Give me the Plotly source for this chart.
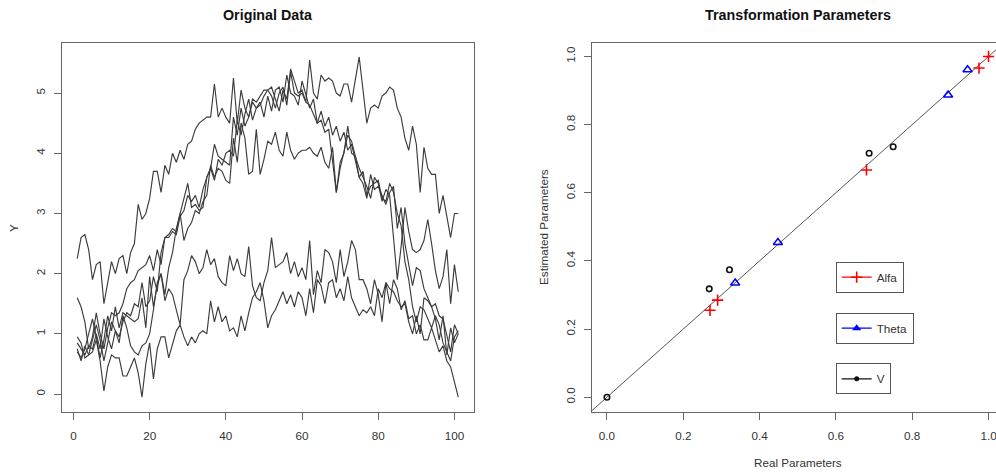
import plotly.graph_objects as go

# ---------------- data ----------------
t = list(range(1, 102))

series_a = [2.25, 2.6, 2.65, 2.4, 1.9, 2.15, 2.2, 1.5, 1.85, 2.2,
            2.0, 2.25, 2.3, 2.0, 2.35, 2.5, 3.15, 2.9, 3.0, 3.25,
            3.7, 3.7, 3.35, 3.8, 3.65, 4.0, 3.85, 4.05, 3.9, 4.15,
            4.2, 4.4, 4.5, 4.55, 4.6, 4.6, 5.15, 4.6, 4.75, 4.6,
            4.5, 5.25, 4.5, 5.05, 4.75, 4.6, 4.9, 4.85, 4.95, 5.05,
            5.05, 4.95, 4.75, 5.0, 5.1, 4.8, 5.35, 5.0, 4.95, 5.0,
            4.85, 5.55, 5.0, 4.9, 5.3, 5.2, 5.25, 5.2, 5.0, 4.95,
            5.15, 5.15, 4.85, 5.2, 5.6, 5.05, 4.5, 4.75, 4.8, 4.75,
            4.95, 5.0, 5.1, 5.05, 4.75, 4.6, 4.25, 4.05, 4.45, 4.15,
            3.35, 4.1, 3.75, 3.65, 3.65, 3.0, 3.3, 2.95, 2.6, 3.0, 3.0]

series_b = [0.95, 0.85, 0.6, 0.65, 0.9, 1.15, 0.9, 0.55, 0.85, 1.2,
            1.05, 0.85, 1.3, 1.1, 0.8, 0.7, 0.65, 0.8, 0.85, 1.0,
            1.4, 1.85, 2.0, 1.65, 2.1, 2.35, 2.75, 3.0, 3.3, 3.5,
            3.1, 3.15, 3.05, 3.1, 3.6, 3.75, 4.15, 3.95, 3.9, 3.85,
            3.8, 4.6, 4.3, 4.75, 4.45, 4.6, 4.85, 4.75, 4.8, 4.95,
            5.05, 5.1, 4.9, 4.7, 5.05, 4.9, 5.4, 5.2, 5.0, 5.05,
            4.85, 4.8, 4.65, 4.5, 4.7, 4.45, 4.6, 4.3, 4.45, 4.2,
            4.35, 4.05, 4.15, 3.85, 3.6, 3.7, 3.3, 3.45, 3.5, 3.55,
            3.25, 3.2, 3.5, 3.35, 3.0, 2.8, 2.2, 1.9, 1.45, 1.2,
            1.45, 1.4, 1.25, 1.1, 1.3, 1.15, 0.85, 0.7, 0.55, 0.95, 1.05]

series_c = [0.85, 0.75, 0.65, 0.8, 0.75, 1.0, 0.75, 1.25, 0.95, 0.75,
            1.05, 0.95, 1.2, 1.35, 1.3, 1.5, 1.45, 1.85, 1.45, 1.55,
            1.95, 1.7, 2.35, 2.6, 2.6, 2.7, 2.65, 2.95, 3.05, 3.3,
            3.2, 3.3, 3.1, 3.4, 3.6, 3.75, 3.55, 3.9, 3.8, 4.0,
            4.05, 3.95, 4.55, 4.3, 4.65, 4.9, 4.55, 4.75, 4.85, 4.6,
            4.95, 4.7, 5.05, 5.1, 4.85, 5.3, 5.0, 4.95, 4.8, 5.2,
            4.95, 4.75, 4.9, 4.5, 4.55, 4.35, 4.4, 3.9, 3.35, 3.75,
            4.05, 4.3, 4.2, 3.95, 3.6, 3.5, 3.25, 3.65, 3.4, 3.45,
            3.3, 3.15, 3.35, 3.45, 2.75, 3.1, 2.5, 2.15, 1.8, 2.1,
            2.05, 1.75, 1.6, 1.45, 1.5, 1.3, 1.25, 0.95, 0.7, 1.15, 1.0]

series_d = [1.6, 1.45, 1.2, 0.75, 0.95, 1.35, 1.0, 0.75, 1.1, 1.35,
            1.3, 1.35, 1.5, 1.75, 1.85, 1.9, 2.05, 2.1, 2.15, 2.3,
            2.05, 2.4, 2.15, 2.6, 2.65, 2.75, 2.7, 3.0, 2.55, 2.75,
            2.85, 3.05, 3.0, 3.2, 3.3, 3.8, 3.6, 3.75, 3.7, 3.55,
            3.5, 4.25, 3.85, 4.5, 4.25, 3.65, 3.7, 4.4, 3.65, 3.9,
            4.2, 4.15, 4.35, 4.05, 3.95, 4.35, 4.05, 3.9, 4.0, 4.05,
            4.05, 4.1, 4.0, 3.95, 4.1, 3.85, 3.75, 4.1, 3.35, 3.85,
            4.0, 4.45, 4.0, 3.95, 3.75, 3.6, 3.45, 3.25, 3.6, 3.5,
            3.2, 3.4, 3.3, 2.6, 1.9, 2.45, 3.1, 2.7, 2.4, 2.35,
            2.4, 2.55, 2.9, 2.5, 2.05, 1.75, 1.95, 2.4, 1.5, 2.15, 1.7]

series_e = [0.7, 0.6, 0.75, 1.0, 1.25, 0.95, 0.6, 0.9, 1.3, 1.05,
            1.45, 1.1, 1.35, 1.3, 1.25, 1.2, 1.25, 1.6, 1.1, 1.95,
            1.45, 1.8, 2.0, 1.55, 1.75, 1.65, 1.4, 1.15, 1.9, 2.05,
            2.3, 2.2, 2.0, 2.1, 2.4, 2.15, 2.25, 1.95, 1.85, 1.8,
            2.3, 2.05, 2.25, 2.0, 1.95, 2.45, 1.8, 1.6, 1.55, 1.85,
            2.05, 2.6, 2.1, 2.15, 2.2, 2.35, 2.0, 2.2, 1.95, 2.1,
            1.9, 2.55, 1.65, 2.05, 1.85, 2.4, 2.35, 2.2, 1.85, 2.4,
            1.95, 2.2, 2.55, 2.4, 1.9, 1.9, 1.75, 1.5, 1.9, 1.65,
            1.2, 1.85, 1.75, 1.7, 1.55, 1.45, 1.5, 1.2, 1.0, 1.3,
            1.0, 1.6, 1.55, 1.45, 1.25, 0.9, 1.3, 0.65, 1.1, 0.85, 1.0]

series_f = [0.75, 0.55, 0.8, 0.65, 0.7, 0.9, 0.55, 0.05, 0.45, 0.65,
            0.6, 0.6, 0.3, 0.3, 0.45, 0.6, 0.35, -0.05, 0.5, 0.85,
            0.25, 0.75, 0.95, 0.95, 0.6, 0.85, 1.05, 1.15, 0.95, 0.8,
            0.95, 0.85, 1.0, 1.05, 1.0, 1.55, 1.2, 1.45, 1.2, 1.3,
            1.05, 1.1, 0.95, 1.3, 1.05, 1.35, 1.6, 1.7, 1.85, 1.55,
            1.1, 1.3, 1.4, 1.55, 1.7, 1.5, 1.65, 1.45, 1.7, 1.6,
            1.3, 1.75, 1.35, 1.9, 1.8, 1.5, 1.85, 1.9, 1.6, 1.75,
            1.55, 1.95, 1.6, 1.45, 1.3, 1.4, 1.35, 1.45, 1.3, 1.75,
            1.6, 1.85, 1.5, 1.9, 1.75, 1.4, 1.55, 1.25, 1.3, 1.0,
            1.15, 0.9, 0.9, 1.1, 0.9, 0.7, 0.8, 0.55, 0.45, 0.2, -0.05]

all_series = [series_a, series_b, series_c, series_d, series_e, series_f]

alfa_real = [0.27, 0.29, 0.68, 0.975, 1.0]
alfa_est = [0.255, 0.285, 0.667, 0.966, 1.0]
theta_real = [0.336, 0.448, 0.894, 0.945]
theta_est = [0.335, 0.454, 0.887, 0.961]
v_real = [0.0, 0.268, 0.321, 0.687, 0.75]
v_est = [0.0, 0.318, 0.374, 0.716, 0.735]
diag_x = [-0.1, 1.1]

left_xticks = [0, 20, 40, 60, 80, 100]
left_yticks = [0, 1, 2, 3, 4, 5]
right_ticks = [0.0, 0.2, 0.4, 0.6, 0.8, 1.0]
right_ticklabels = ["0.0", "0.2", "0.4", "0.6", "0.8", "1.0"]

# ---------------- figure ----------------
W, H = 996, 473
FONT = "Liberation Sans, Arial, sans-serif"
TXT = "#333333"
AX = "#666666"
fs = 11.7

fig = go.Figure()

for s in all_series:
    fig.add_trace(go.Scatter(x=t, y=s, mode="lines", xaxis="x", yaxis="y",
                             line=dict(color="#3c3c3c", width=1.15),
                             showlegend=False, hoverinfo="skip"))

fig.add_trace(go.Scatter(x=diag_x, y=diag_x, mode="lines", xaxis="x2", yaxis="y2",
                         line=dict(color="#555555", width=1), showlegend=False))

fig.add_trace(go.Scatter(x=alfa_real, y=alfa_est, mode="markers", xaxis="x2", yaxis="y2",
                         marker=dict(symbol="cross-thin-open", size=8, color="#ff0000",
                                     line=dict(color="#ff0000", width=1.6)),
                         showlegend=False))
fig.add_trace(go.Scatter(x=theta_real, y=theta_est, mode="markers", xaxis="x2", yaxis="y2",
                         marker=dict(symbol="triangle-up-open", size=8, color="#0000ff",
                                     line=dict(color="#0000ff", width=1.5)),
                         showlegend=False))
fig.add_trace(go.Scatter(x=v_real, y=v_est, mode="markers", xaxis="x2", yaxis="y2",
                         marker=dict(symbol="circle-open", size=5.5, color="#111111",
                                     line=dict(color="#111111", width=1.6)),
                         showlegend=False))

# legend entries (three separate boxes)
fig.add_trace(go.Scatter(x=[None], y=[None], mode="lines+markers", name="Alfa",
                         xaxis="x2", yaxis="y2", legend="legend",
                         line=dict(color="#ff0000", width=1.3),
                         marker=dict(symbol="cross-thin-open", size=8, color="#ff0000",
                                     line=dict(color="#ff0000", width=1.6))))
fig.add_trace(go.Scatter(x=[None], y=[None], mode="lines+markers", name="Theta",
                         xaxis="x2", yaxis="y2", legend="legend2",
                         line=dict(color="#0000ff", width=1.3),
                         marker=dict(symbol="triangle-up", size=8, color="#0000ff")))
fig.add_trace(go.Scatter(x=[None], y=[None], mode="lines+markers", name="V",
                         xaxis="x2", yaxis="y2", legend="legend3",
                         line=dict(color="#111111", width=1.3),
                         marker=dict(symbol="circle", size=5, color="#111111")))

ydom = [1 - 411.5 / H, 1 - 42.5 / H]
axis_common = dict(showgrid=False, zeroline=False, showline=True, linecolor=AX, linewidth=1,
                   ticks="outside", ticklen=7, tickcolor=AX, tickwidth=1,
                   ticklabeloverflow="allow",
                   tickfont=dict(family=FONT, size=fs, color=TXT))

legend_common = dict(xanchor="left", yanchor="top", bordercolor="#555555", borderwidth=1,
                     bgcolor="white", font=dict(family=FONT, size=fs, color=TXT), itemwidth=30)

fig.update_layout(
    width=W, height=H,
    margin=dict(l=0, r=0, t=0, b=0),
    paper_bgcolor="white", plot_bgcolor="white",
    font=dict(family=FONT, size=fs, color=TXT),
    xaxis=dict(domain=[62 / W, 473.5 / W], range=[-3, 105], anchor="y",
               tickvals=left_xticks, mirror=True, ticklabelstandoff=6, **axis_common),
    yaxis=dict(domain=ydom, range=[-0.29, 5.84], anchor="x",
               tickvals=left_yticks, tickangle=-90, mirror=True, ticklabelstandoff=4,
               **axis_common),
    xaxis2=dict(domain=[591.7 / W, 1.0], range=[-0.04, 1.0195], anchor="y2",
                tickvals=right_ticks, ticktext=right_ticklabels, mirror=True,
                ticklabelstandoff=6, **axis_common),
    yaxis2=dict(domain=ydom, range=[-0.042, 1.041], anchor="x2",
                tickvals=right_ticks, ticktext=right_ticklabels, tickangle=-90,
                ticklabelstandoff=4, **axis_common),
    legend=dict(x=835.7 / W, y=1 - 261.7 / H, **legend_common),
    legend2=dict(x=835.7 / W, y=1 - 312.7 / H, **legend_common),
    legend3=dict(x=835.7 / W, y=1 - 363.3 / H, **legend_common),
    annotations=[
        dict(text="<b>Original Data</b>", x=267.7 / W, y=1 - 15 / H, xref="paper", yref="paper",
             showarrow=False, xanchor="center", yanchor="middle",
             font=dict(family=FONT, size=14.3, color="#111111")),
        dict(text="<b>Transformation Parameters</b>", x=797.8 / W, y=1 - 15 / H,
             xref="paper", yref="paper", showarrow=False, xanchor="center", yanchor="middle",
             font=dict(family=FONT, size=14.3, color="#111111")),
        dict(text="Y", x=13 / W, y=1 - 228 / H, xref="paper", yref="paper", textangle=-90,
             showarrow=False, xanchor="center", yanchor="middle",
             font=dict(family=FONT, size=fs, color=TXT)),
        dict(text="Estimated Parameters", x=543 / W, y=1 - 227 / H, xref="paper", yref="paper",
             textangle=-90, showarrow=False, xanchor="center", yanchor="middle",
             font=dict(family=FONT, size=fs, color=TXT)),
        dict(text="Real Parameters", x=797.8 / W, y=1 - 462.7 / H, xref="paper", yref="paper",
             showarrow=False, xanchor="center", yanchor="middle",
             font=dict(family=FONT, size=fs, color=TXT)),
    ],
)

fig.write_html("out.html")
